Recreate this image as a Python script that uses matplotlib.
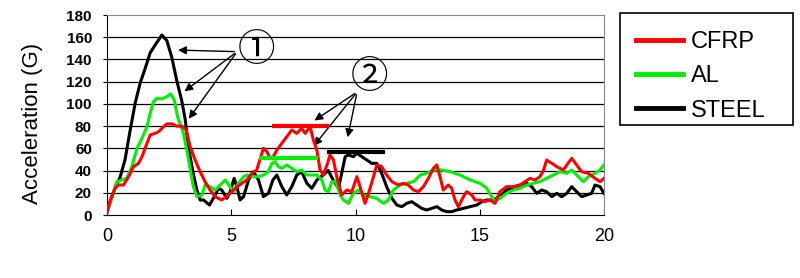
import matplotlib
matplotlib.use("Agg")
import matplotlib.pyplot as plt
from matplotlib.patches import Rectangle

plt.rcParams['font.family'] = ['Liberation Sans', 'DejaVu Sans']

# CFRP (red)
t_cfrp = [0, 0.12, 0.32, 0.45, 0.66, 0.86, 1.06, 1.26, 1.4, 1.6, 1.73, 1.93, 2.07, 2.2, 2.4, 2.6,
          2.8, 3.0, 3.18, 3.34, 3.54, 3.74, 3.94, 4.14, 4.35, 4.61, 4.88, 5.15, 5.42, 5.62, 5.82,
          6.02, 6.16, 6.29, 6.43, 6.56, 6.69, 6.83, 7.03, 7.23, 7.43, 7.63, 7.83, 7.97, 8.17, 8.3,
          8.44, 8.57, 8.7, 8.87, 8.97, 9.11, 9.24, 9.44, 9.65, 9.85, 10.05, 10.18, 10.38, 10.52,
          10.72, 10.85, 11.05, 11.25, 11.46, 11.72, 11.92, 12.12, 12.33, 12.53, 12.73, 12.93, 13.13,
          13.27, 13.4, 13.53, 13.73, 13.87, 14.0, 14.14, 14.34, 14.47, 14.68, 14.81, 15.01, 15.21,
          15.41, 15.61, 15.81, 16.08, 16.35, 16.62, 16.82, 17.02, 17.22, 17.42, 17.56, 17.69, 17.9,
          18.1, 18.36, 18.55, 18.7, 18.9, 19.1, 19.37, 19.64, 19.84, 20]
a_cfrp = [3, 13.5, 24, 27, 27, 34.5, 43.5, 46.5, 52.5, 64.5, 72, 73.5, 75, 78, 82, 82,
          80, 80, 76.5, 61.5, 49.5, 39, 30, 22.5, 16.5, 13.5, 18, 24, 28.5, 31.5, 37.5,
          40.5, 51, 60, 57, 51, 52.5, 58.5, 64.5, 70.5, 76.5, 73.5, 78, 73.5, 79.5, 67.5,
          58.5, 40.5, 36, 46.5, 54, 49.5, 34.5, 18, 22.5, 21, 34.5, 25.5, 10.5, 19.5,
          34.5, 45, 43.5, 36, 30, 27, 28.5, 27, 22.5, 21, 25.5, 33, 42,
          45, 34.5, 22.5, 27, 24, 13.5, 7.5, 16.5, 21, 18, 13.5, 13.5, 12,
          13.5, 10.5, 21, 25.5, 25.5, 27, 30, 33, 31.5, 34.5, 40, 49.5, 46.5,
          43.5, 40.5, 46.5, 51, 45, 39, 37.5, 33, 30, 33]

# AL (green)
t_al = [0, 0.19, 0.39, 0.59, 0.79, 0.99, 1.2, 1.4, 1.6, 1.73, 1.86, 2.0, 2.2, 2.4, 2.56, 2.7,
        2.83, 3.07, 3.23, 3.37, 3.47, 3.61, 3.81, 3.94, 4.14, 4.35, 4.55, 4.75, 4.95, 5.08, 5.28,
        5.49, 5.62, 5.89, 6.09, 6.29, 6.49, 6.63, 6.76, 6.89, 7.03, 7.23, 7.43, 7.63, 7.83, 8.04,
        8.24, 8.44, 8.64, 8.77, 8.91, 9.04, 9.2, 9.38, 9.51, 9.71, 9.91, 10.11, 10.32, 10.58,
        10.85, 11.12, 11.32, 11.52, 11.79, 12.06, 12.33, 12.6, 12.86, 13.13, 13.47, 13.8, 14.2,
        14.61, 15.01, 15.28, 15.48, 15.61, 15.81, 16.08, 16.35, 16.62, 16.89, 17.15, 17.42, 17.69,
        17.96, 18.23, 18.5, 18.7, 18.97, 19.17, 19.37, 19.64, 19.84, 20]
a_al = [3, 16.5, 30, 31.5, 33, 43.5, 60, 69, 79.5, 91.5, 102, 105, 104.5, 106.5, 109, 103.5,
        88.5, 73.5, 55.5, 37.5, 25.5, 16.5, 18, 27, 25.5, 22.5, 27, 31.5, 25.5, 21, 28.5,
        34.5, 36, 34.5, 34.5, 36, 39, 46.5, 48, 43.5, 42, 45, 42, 39, 40.5, 36,
        36, 36, 31.5, 22.5, 21, 30, 30, 18, 13.5, 10.5, 19.5, 22.5, 18, 16.5,
        15, 10.5, 13.5, 22.5, 27, 28.5, 30, 36, 37.5, 40.5, 40.5, 39, 36,
        31.5, 28.5, 24, 16.5, 12, 15, 19.5, 22.5, 24, 27, 28.5, 30, 33,
        36, 39, 37.5, 40.5, 34.5, 30, 34.5, 37.5, 40.5, 45]

# STEEL (black)
t_steel = [0, 0.32, 0.52, 0.72, 0.93, 1.13, 1.33, 1.53, 1.73, 1.93, 2.2, 2.4, 2.6, 2.8, 3.0,
           3.14, 3.27, 3.46, 3.61, 3.74, 3.88, 4.12, 4.31, 4.48, 4.61, 4.82, 4.95, 5.11, 5.22,
           5.35, 5.49, 5.69, 5.89, 6.09, 6.29, 6.49, 6.67, 6.83, 7.03, 7.23, 7.43, 7.63, 7.83,
           8.04, 8.24, 8.44, 8.7, 8.9, 9.1, 9.31, 9.44, 9.58, 9.71, 9.91, 10.05, 10.25, 10.45,
           10.65, 10.85, 11.05, 11.25, 11.46, 11.66, 11.86, 12.06, 12.26, 12.46, 12.66, 12.86,
           13.07, 13.27, 13.47, 13.67, 13.87, 14.07, 14.34, 14.61, 14.88, 15.08, 15.28, 15.55,
           15.81, 16.08, 16.35, 16.62, 16.89, 17.09, 17.29, 17.49, 17.69, 17.9, 18.1, 18.3, 18.5,
           18.7, 18.9, 19.1, 19.3, 19.5, 19.64, 19.84, 20]
a_steel = [3, 25, 34, 50, 77, 101, 119, 132, 146, 153, 162, 157, 142, 121, 103,
           86, 61, 38, 22.5, 13.5, 13.5, 9, 16.5, 24, 22.5, 15, 21, 33, 25.5,
           13.5, 16.5, 31.5, 39, 31.5, 16.5, 19.5, 31.5, 36, 25.5, 18, 25.5, 36, 39,
           28.5, 24, 31.5, 36, 40, 31.5, 24, 37.5, 52.5, 54, 52.5, 55.5, 52.5, 49.5,
           46.5, 46.5, 37.5, 25.5, 15, 9, 7.5, 10.5, 12, 9, 6, 4.5,
           6, 7.5, 4.5, 3, 3, 4.5, 6, 7.5, 9, 12, 13.5, 13.5,
           16.5, 22.5, 25, 27, 28.5, 25.5, 19.5, 22.5, 21, 16.5, 19.5, 16.5, 19.5,
           25.5, 21, 16.5, 18, 19.5, 27, 25.5, 19.5]

# plateau levels (marked 2)
lvl_cfrp = ([6.64, 8.93], 80)
lvl_al = ([6.1, 8.5], 51)
lvl_steel = ([8.85, 11.2], 57)

labels = ['CFRP', 'AL', 'STEEL']
colors = ['#ff0000', '#00ee00', '#000000']

fig = plt.figure(figsize=(8, 2.78), dpi=100)
ax = fig.add_axes([0.134, 0.2266, 0.621, 0.7194])

ax.set_xlim(0, 20)
ax.set_ylim(0, 180)
ax.set_yticks(range(0, 181, 20))
ax.set_xticks([0, 5, 10, 15, 20])
for y in range(20, 180, 20):
    ax.axhline(y, color='black', lw=0.9, zorder=1)

ax.plot(t_cfrp, a_cfrp, color=colors[0], lw=2.2, label=labels[0], zorder=4)
ax.plot(t_al, a_al, color=colors[1], lw=2.2, label=labels[1], zorder=3)
ax.plot(t_steel, a_steel, color=colors[2], lw=2.2, label=labels[2], zorder=2)

for (xs, y), c in zip([lvl_cfrp, lvl_al, lvl_steel], colors):
    ax.plot(xs, [y, y], color=c, lw=3, solid_capstyle='butt', zorder=5)

ax.spines['top'].set_color('#888888')
ax.spines['right'].set_color('#888888')
ax.spines['left'].set_color('black')
ax.spines['bottom'].set_color('black')
ax.tick_params(axis='x', direction='in', length=4, pad=9, labelsize=13)
ax.tick_params(axis='y', direction='out', length=3, pad=8, labelsize=11)
for lab in ax.get_yticklabels():
    lab.set_fontweight('bold')
ax.set_ylabel('Acceleration (G)', fontsize=16)
ax.yaxis.set_label_coords(-0.129, 0.46)

# annotations
circ_font = ['Noto Sans CJK JP', 'DejaVu Sans']
ax.text(6.0, 148, '①', fontsize=27, family=circ_font, ha='center', va='center')
for hx, hy in [(2.74, 148.5), (3.02, 109.8), (3.22, 84.6)]:
    ax.annotate('', xy=(hx, hy), xytext=(5.23, 147),
                arrowprops=dict(arrowstyle='-|>', color='black', lw=1, mutation_scale=12))
ax.text(10.54, 124, '②', fontsize=27, family=circ_font, ha='center', va='center')
for hx, hy in [(8.25, 83.7), (8.25, 60.3), (9.66, 67.5)]:
    ax.annotate('', xy=(hx, hy), xytext=(10.06, 110.7),
                arrowprops=dict(arrowstyle='-|>', color='black', lw=1, mutation_scale=12))

# legend with its own frame box
fig.patches.append(Rectangle((620 / 800, 1 - 125 / 278), 173 / 800, 112 / 278,
                             transform=fig.transFigure, fill=False, edgecolor='black', lw=1.2))
leg = ax.legend(loc='upper left', bbox_to_anchor=(0.7775, 0.939), bbox_transform=fig.transFigure,
                fontsize=17, frameon=False, handlelength=2.0, handletextpad=0.3,
                borderpad=0.6, labelspacing=0.52, borderaxespad=0)
for ln in leg.get_lines():
    ln.set_linewidth(3.5)

fig.savefig('out.png', dpi=100)
